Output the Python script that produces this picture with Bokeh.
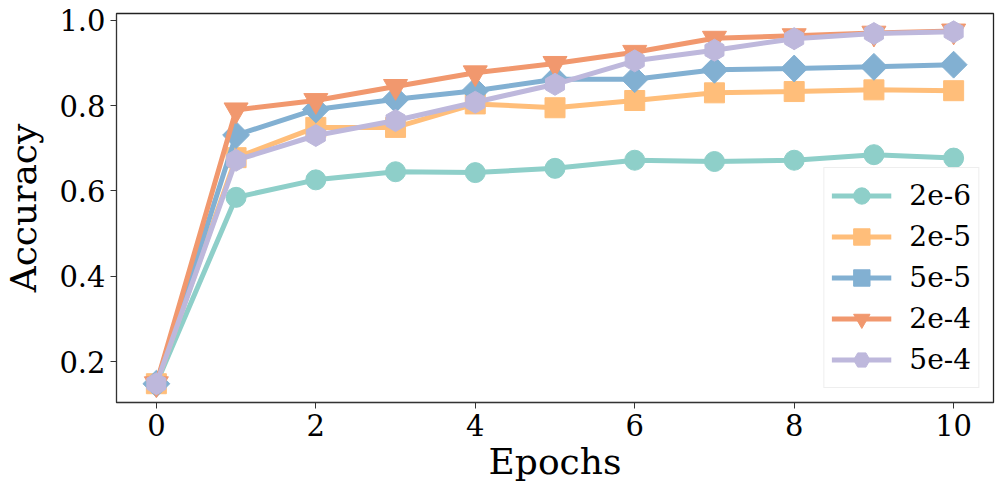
from bokeh.plotting import figure
from bokeh.models import FixedTicker, NumeralTickFormatter, Range1d, Legend
from bokeh.embed import file_html
from bokeh.resources import INLINE
import math

epochs = [0, 1, 2, 3, 4, 5, 6, 7, 8, 9, 10]
acc_2e6 = [0.148, 0.585, 0.626, 0.645, 0.643, 0.653, 0.672, 0.669, 0.672, 0.685, 0.677]
acc_2e5 = [0.148, 0.678, 0.749, 0.749, 0.804, 0.795, 0.812, 0.830, 0.833, 0.837, 0.835]
acc_5e5 = [0.148, 0.731, 0.791, 0.815, 0.835, 0.862, 0.862, 0.884, 0.887, 0.891, 0.896]
acc_2e4 = [0.148, 0.790, 0.812, 0.845, 0.877, 0.899, 0.925, 0.958, 0.964, 0.970, 0.975]
acc_5e4 = [0.148, 0.672, 0.730, 0.765, 0.808, 0.850, 0.905, 0.930, 0.957, 0.969, 0.973]
labels = ["2e-6", "2e-5", "5e-5", "2e-4", "5e-4"]
y_ticks = [0.2, 0.4, 0.6, 0.8, 1.0]
x_ticks = [0, 2, 4, 6, 8, 10]

FONT = "DejaVu Serif"

p = figure(frame_width=877, frame_height=389, output_backend="svg", toolbar_location=None,
           x_range=Range1d(-0.5, 10.5), y_range=Range1d(0.104, 1.016),
           min_border_left=108, min_border_right=4, min_border_top=13, min_border_bottom=85)
p.xgrid.visible = False
p.ygrid.visible = False
p.outline_line_color = "#222222"
p.outline_line_width = 1.3

series = [
    (acc_2e6, "#8ECFC9", "circle", 20, 0),
    (acc_2e5, "#FFBE7A", "square", 20, 0),
    (acc_5e5, "#82B0D2", "square", 19, math.pi / 4),
    (acc_2e4, "#F1986E", "inverted_triangle", 24, 0),
    (acc_5e4, "#BEB8DC", "hex", 22, math.pi / 2),
]
items = []
for (vals, col, mk, sz, ang), lab in zip(series, labels):
    r1 = p.line(epochs, vals, line_color=col, line_width=5)
    r2 = p.scatter(epochs, vals, marker=mk, size=sz, angle=ang,
                   fill_color=col, line_color=col)
    items.append((lab, [r1, r2]))

legend = Legend(items=items, location="bottom_right")
legend.label_text_font = FONT
legend.label_text_font_size = "28px"
legend.label_text_color = "black"
legend.glyph_width = 60
legend.glyph_height = 41
legend.spacing = 0
legend.padding = 7
legend.margin = 14
legend.label_standoff = 18
legend.border_line_color = "#dddddd"
legend.border_line_width = 1.5
legend.background_fill_alpha = 0.85
p.add_layout(legend)

for ax in (p.xaxis[0], p.yaxis[0]):
    ax.major_label_text_font = FONT
    ax.major_label_text_font_size = "29px"
    ax.axis_label_text_font = FONT
    ax.axis_label_text_font_size = "36px"
    ax.axis_label_text_font_style = "normal"
    ax.minor_tick_line_color = None
    ax.major_tick_out = 6
    ax.major_tick_in = 0
    ax.axis_line_color = "#333333"
    ax.major_tick_line_color = "#333333"
    ax.major_label_text_color = "black"
    ax.axis_label_text_color = "black"

p.xaxis.ticker = FixedTicker(ticks=x_ticks)
p.yaxis.ticker = FixedTicker(ticks=y_ticks)
p.yaxis.formatter = NumeralTickFormatter(format="0.0")
p.xaxis.axis_label = "Epochs"
p.yaxis.axis_label = "Accuracy"
p.xaxis.axis_label_standoff = 2
p.yaxis.axis_label_standoff = 12

open("out.html", "w").write(file_html(p, INLINE))
